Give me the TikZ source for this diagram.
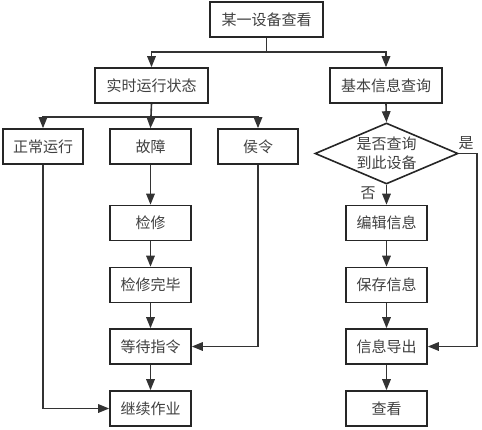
\documentclass[tikz,border=0pt]{standalone}
\usepackage{fontspec}
\newfontfamily\cjk{Noto Sans CJK SC}
\usetikzlibrary{arrows.meta,shapes.geometric}
\begin{document}
\begin{tikzpicture}[x=1pt,y=-1pt,
  box/.style={draw=black!85,line width=1.6pt,minimum height=35pt,inner sep=0pt,font=\cjk\fontsize{15}{18}\selectfont,text=black!75},
  wbox/.style={box,minimum width=113pt},
  sbox/.style={box,minimum width=81pt},
  arr/.style={draw=black!80,line width=1.6pt,-{Triangle[length=11pt,width=8.5pt]}},
  lbl/.style={font=\cjk\fontsize{15}{18}\selectfont,text=black!75,inner sep=0pt}]
\useasboundingbox (0,0) rectangle (482,429);
\node[wbox] (top) at (266.5,19.5) {某一设备查看};
\node[wbox] (rt) at (151.5,85.5) {实时运行状态};
\node[wbox,minimum width=112pt] (jb) at (386,85.5) {基本信息查询};
\node[sbox,minimum width=80pt] (zc) at (43,146.5) {正常运行};
\node[sbox] (gz) at (150.5,146.5) {故障};
\node[sbox,minimum width=80pt] (hl) at (258,146.5) {侯令};
\node[draw=black!85,line width=1.6pt,diamond,aspect=2.34,minimum width=143pt,minimum height=61pt,inner sep=0pt,align=center,font=\cjk\fontsize{15}{19}\selectfont,text=black!75] (dia) at (386.5,153.5) {是否查询\\到此设备};
\node[sbox] (jx) at (150.5,223) {检修};
\node[sbox] (bj) at (386.5,223) {编辑信息};
\node[sbox] (wb) at (150.5,285) {检修完毕};
\node[sbox] (bc) at (386.5,285) {保存信息};
\node[sbox] (dd) at (150.5,346.5) {等待指令};
\node[sbox] (dc) at (386.5,346.5) {信息导出};
\node[sbox] (jx2) at (150.5,408.5) {继续作业};
\node[sbox] (ck) at (386.5,408.5) {查看};
\coordinate (b1) at (266.5,52);
\coordinate (b2) at (151.5,117);
\coordinate (r1) at (477,153.5);
\draw[arr] (top.south) -- (b1) -| (rt.north);
\draw[arr] (b1) -| (jb.north);
\draw[arr] (rt.south) -- (gz.north);
\draw[arr] (b2) -| (zc.north);
\draw[arr] (b2) -| (hl.north);
\draw[arr] (jb.south) -- (dia.north);
\draw[arr] (dia.south) -- (bj.north);
\draw[arr] (dia.east) -- (r1) |- (dc.east);
\node[lbl] (yes) at (466,143) {是};
\node[lbl] (no) at (368,193.5) {否};
\draw[arr] (gz.south) -- (jx.north);
\draw[arr] (jx.south) -- (wb.north);
\draw[arr] (wb.south) -- (dd.north);
\draw[arr] (dd.south) -- (jx2.north);
\draw[arr] (bj.south) -- (bc.north);
\draw[arr] (bc.south) -- (dc.north);
\draw[arr] (dc.south) -- (ck.north);
\draw[arr] (zc.south) |- (jx2.west);
\draw[arr] (hl.south) |- (dd.east);
\end{tikzpicture}
\end{document}
